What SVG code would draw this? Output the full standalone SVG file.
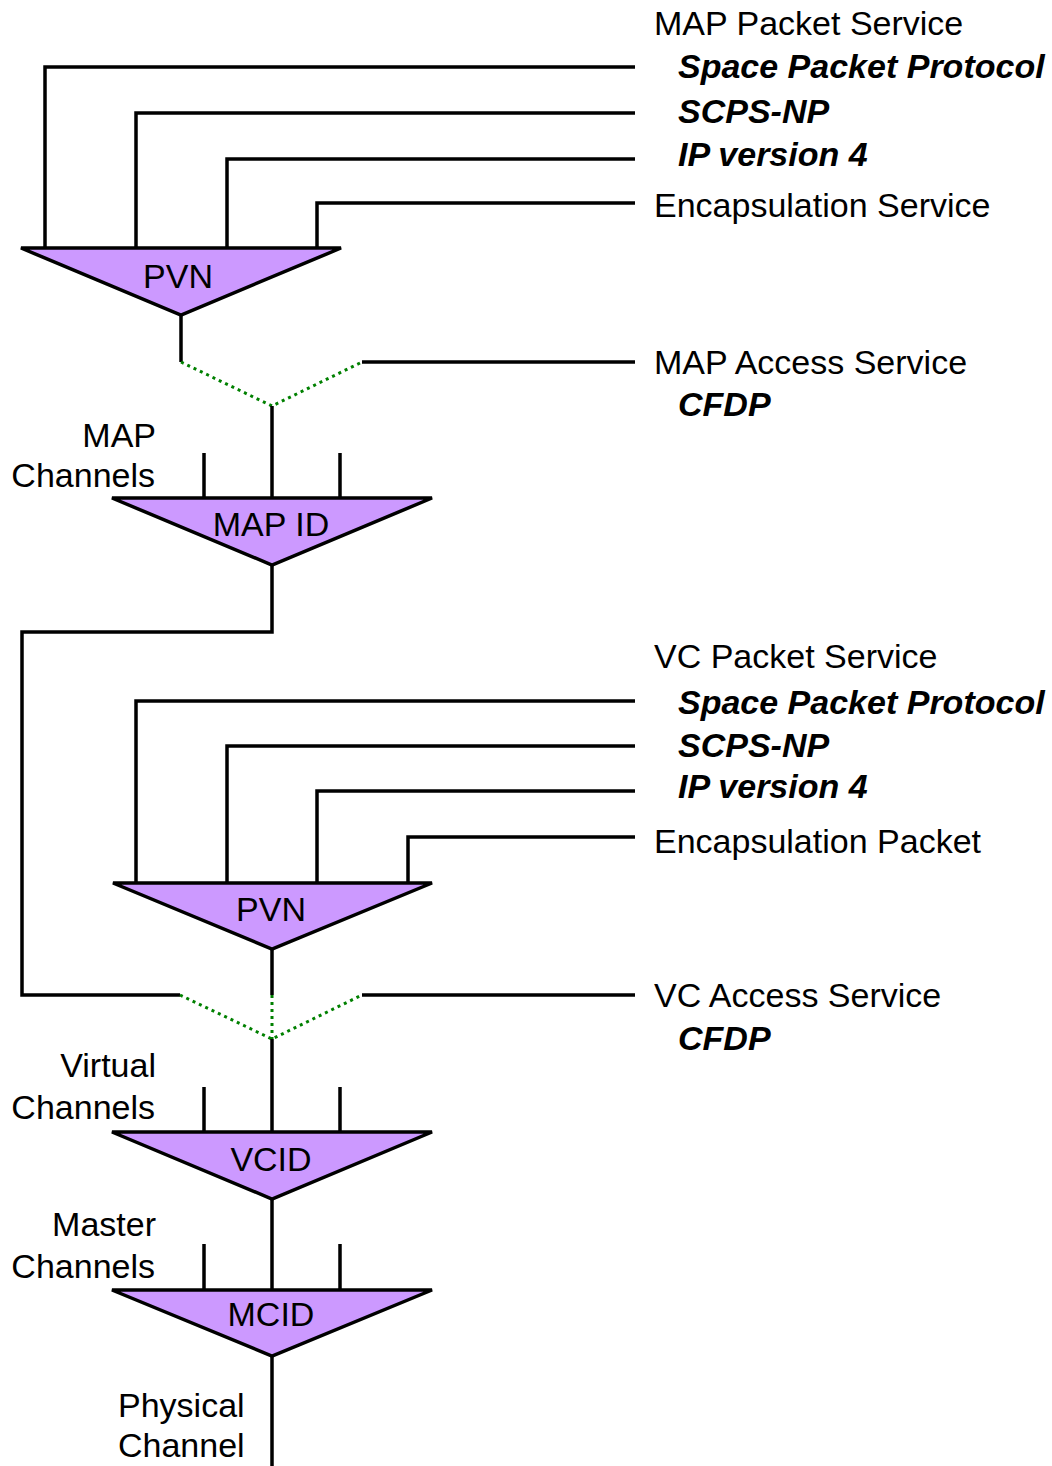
<svg xmlns="http://www.w3.org/2000/svg" width="1052" height="1466" viewBox="0 0 1052 1466">
<style>
.w{fill:#fff}
.ln{fill:none;stroke:#000;stroke-width:3.5;stroke-linejoin:miter}
.dot{fill:none;stroke:#008000;stroke-width:3;stroke-dasharray:3 4}
.tri{fill:#CC99FF;stroke:#000;stroke-width:3.5;stroke-linejoin:miter}
text{font-family:"Liberation Sans",Arial,sans-serif;font-size:34px;fill:#000}
.bi{font-weight:bold;font-style:italic}
.c{text-anchor:middle}
.r{text-anchor:end}
</style>
<rect class="w" x="0" y="0" width="1052" height="1466"/>
<g id="connectors">
<path class="ln" d="M45,248 V67 H635"/>
<path class="ln" d="M136,248 V113 H635"/>
<path class="ln" d="M227,248 V159 H635"/>
<path class="ln" d="M317,248 V203 H635"/>
<path class="ln" d="M181,315 V362"/>
<path class="dot" d="M181,362 L272,406 L362,362"/>
<path class="ln" d="M362,362 H635"/>
<path class="ln" d="M272,406 V498"/>
<path class="ln" d="M204,453 V498 M340,453 V498"/>
<path class="ln" d="M272,565 V632 H22 V995 H180"/>
<path class="ln" d="M136,883 V701 H635"/>
<path class="ln" d="M227,883 V746 H635"/>
<path class="ln" d="M317,883 V791 H635"/>
<path class="ln" d="M408,883 V837 H635"/>
<path class="ln" d="M272,949 V995"/>
<path class="dot" d="M180,995 L272,1039 L362,995 M272,995 V1039"/>
<path class="ln" d="M362,995 H635"/>
<path class="ln" d="M272,1039 V1132"/>
<path class="ln" d="M204,1087 V1132 M340,1087 V1132"/>
<path class="ln" d="M272,1199 V1290"/>
<path class="ln" d="M204,1244 V1290 M340,1244 V1290"/>
<path class="ln" d="M272,1356 V1466"/>
</g>
<g id="pvn-map">
<polygon class="tri" points="21,248 341,248 181,315"/>
<text class="c" x="178" y="288">PVN</text>
</g>
<g id="map-id">
<polygon class="tri" points="112,498 432,498 272,565"/>
<text class="c" x="271" y="536">MAP ID</text>
</g>
<g id="pvn-vc">
<polygon class="tri" points="113,883 432,883 272,949"/>
<text class="c" x="271" y="921">PVN</text>
</g>
<g id="vcid">
<polygon class="tri" points="112,1132 432,1132 272,1199"/>
<text class="c" x="271" y="1171">VCID</text>
</g>
<g id="mcid">
<polygon class="tri" points="112,1290 432,1290 272,1356"/>
<text class="c" x="271" y="1326">MCID</text>
</g>
<g id="labels">
<text x="654" y="35">MAP Packet Service</text>
<text class="bi" x="678" y="78">Space Packet Protocol</text>
<text class="bi" x="678" y="123">SCPS-NP</text>
<text class="bi" x="678" y="166">IP version 4</text>
<text x="654" y="217">Encapsulation Service</text>
<text x="654" y="374">MAP Access Service</text>
<text class="bi" x="678" y="416">CFDP</text>
<text class="r" x="156" y="447">MAP</text>
<text class="r" x="155" y="487">Channels</text>
<text x="654" y="668">VC Packet Service</text>
<text class="bi" x="678" y="714">Space Packet Protocol</text>
<text class="bi" x="678" y="757">SCPS-NP</text>
<text class="bi" x="678" y="798">IP version 4</text>
<text x="654" y="853">Encapsulation Packet</text>
<text x="654" y="1007">VC Access Service</text>
<text class="bi" x="678" y="1050">CFDP</text>
<text class="r" x="156" y="1077">Virtual</text>
<text class="r" x="155" y="1119">Channels</text>
<text class="r" x="156" y="1236">Master</text>
<text class="r" x="155" y="1278">Channels</text>
<text x="118" y="1417">Physical</text>
<text x="118" y="1457">Channel</text>
</g>
</svg>
